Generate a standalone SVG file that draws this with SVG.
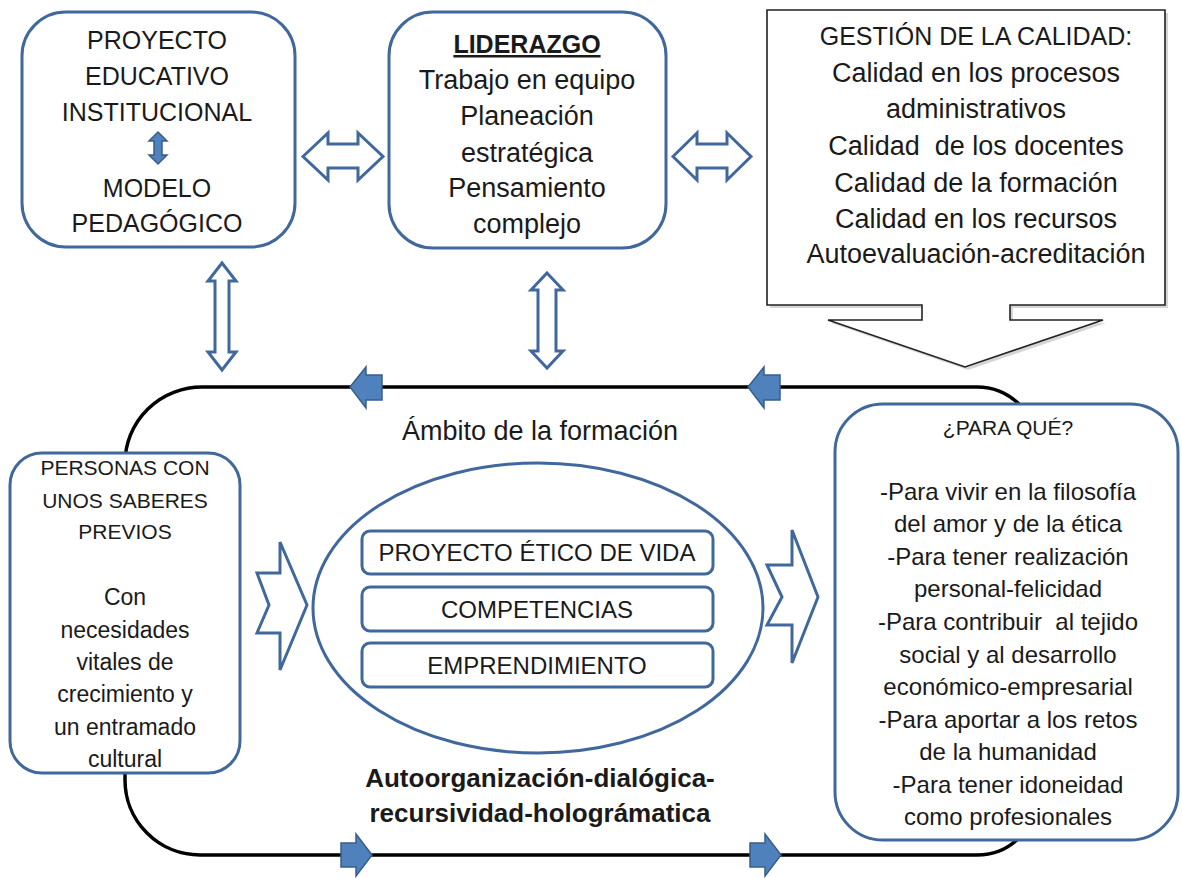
<svg xmlns="http://www.w3.org/2000/svg" width="1182" height="878" viewBox="0 0 1182 878">
<defs>
<style>
.box{fill:#fff;stroke:#41689c;stroke-width:3}
.hollow{fill:#fff;stroke:#41689c;stroke-width:3;stroke-linejoin:miter}
.solid{fill:#4f81bd;stroke:#385d8a;stroke-width:1.5}
.loop{fill:none;stroke:#000;stroke-width:3.5}
.callout{fill:#fff;stroke:#222;stroke-width:1.6}
.shadow{fill:#bbb;opacity:0.6}
text{font-family:"Liberation Sans",Arial,sans-serif;fill:#1a1a1a;text-anchor:middle}
.c25{font-size:25px}
.l27{font-size:27px}
.c21{font-size:21px}
.l23{font-size:23px}
.l24{font-size:24px}
.b{font-weight:bold}
</style>
</defs>
<rect width="1182" height="878" fill="#fff"/>

<g id="connectors">
<path class="loop" d="M203,387 H977 A60,60 0 0 1 1037,447 V795 A60,60 0 0 1 977,855 H200 A75,75 0 0 1 125,780 V463 A77,76 0 0 1 203,387 Z"/>
<path class="hollow" d="M303,156.5 L328,133 V144 H358 V133 L383,156.5 L358,180 V168 H328 V180 Z"/>
<path class="hollow" d="M673,156.5 L697,133 V144 H727 V133 L751,156.5 L727,180 V168 H697 V180 Z"/>
<path class="hollow" d="M222,263 L236,281 H229 V352 H236 L222,370 L208,352 H215 V281 H208 Z"/>
<path class="hollow" d="M547,273 L563,290 H556 V351 H563 L547,368 L531,351 H538 V290 H531 Z"/>
<path class="hollow" d="M257,573 H280 V542 L307,605 L280,670 V633 H257 L269,605 Z"/>
<path class="hollow" d="M767,565 H792 V530 L818,597 L792,663 V625 H767 L782,597 Z"/>
<path class="solid" d="M350,387 L366,367 V375 H382 V400 H366 V408 Z"/>
<path class="solid" d="M748,387 L764,367 V375 H780 V400 H764 V408 Z"/>
<path class="solid" d="M372,855 L356,834 V843 H341 V867 H356 V876 Z"/>
<path class="solid" d="M781,855 L765,834 V843 H750 V867 H765 V876 Z"/>
</g>

<g id="proyecto">
<rect class="box" x="22" y="12" width="273" height="235" rx="44"/>
<text class="c25" x="157" y="49">PROYECTO</text>
<text class="c25" x="157" y="85">EDUCATIVO</text>
<text class="c25" x="157" y="121">INSTITUCIONAL</text>
<path class="solid" d="M158,132 L167,141 H162 V155 H167 L158,164 L149,155 H154 V141 H149 Z"/>
<text class="c25" x="157" y="197">MODELO</text>
<text class="c25" x="157" y="232">PEDAGÓGICO</text>
</g>

<g id="liderazgo">
<rect class="box" x="389" y="12" width="277" height="236" rx="44"/>
<text class="c25 b" x="527" y="53" font-size="24" text-decoration="underline">LIDERAZGO</text>
<text class="l27" x="527" y="89">Trabajo en equipo</text>
<text class="l27" x="527" y="125">Planeación</text>
<text class="l27" x="527" y="162">estratégica</text>
<text class="l27" x="527" y="197">Pensamiento</text>
<text class="l27" x="527" y="233">complejo</text>
</g>

<g id="gestion">
<path class="shadow" d="M770,13 H1168 V308 H1013 V323 H1106 L968,370 L831,323 H925 V308 H770 Z"/>
<path class="callout" d="M767,10 H1165 V305 H1010 V320 H1103 L965,367 L828,320 H922 V305 H767 Z"/>
<text class="c25" x="976" y="45">GESTIÓN DE LA CALIDAD:</text>
<text class="l27" x="976" y="82">Calidad en los procesos</text>
<text class="l27" x="976" y="118">administrativos</text>
<text class="l27" x="976" y="155" xml:space="preserve">Calidad  de los docentes</text>
<text class="l27" x="976" y="192">Calidad de la formación</text>
<text class="l27" x="976" y="228">Calidad en los recursos</text>
<text class="l27" x="976" y="263">Autoevaluación-acreditación</text>
</g>

<g id="ambito">
<text x="540" y="440" font-size="27">Ámbito de la formación</text>
</g>

<g id="personas">
<rect class="box" x="10" y="453" width="230" height="320" rx="32"/>
<text class="c21" x="125" y="475">PERSONAS CON</text>
<text class="c21" x="125" y="508">UNOS SABERES</text>
<text class="c21" x="125" y="539">PREVIOS</text>
<text class="l23" x="125" y="605">Con</text>
<text class="l23" x="125" y="638">necesidades</text>
<text class="l23" x="125" y="670">vitales de</text>
<text class="l23" x="125" y="702">crecimiento y</text>
<text class="l23" x="125" y="735">un entramado</text>
<text class="l23" x="125" y="767">cultural</text>
</g>

<g id="formacion">
<ellipse class="box" cx="538" cy="608" rx="225" ry="145"/>
<rect class="box" x="362" y="531" width="351" height="43" rx="8"/>
<text class="l24" x="537" y="561">PROYECTO ÉTICO DE VIDA</text>
<rect class="box" x="362" y="587" width="351" height="44" rx="8"/>
<text class="l24" x="537" y="618">COMPETENCIAS</text>
<rect class="box" x="362" y="643" width="351" height="44" rx="8"/>
<text class="l24" x="537" y="674">EMPRENDIMIENTO</text>
</g>

<g id="autoorganizacion">
<text class="b" x="540" y="787" font-size="26">Autoorganización-dialógica-</text>
<text class="b" x="540" y="822" font-size="26">recursividad-holográmatica</text>
</g>

<g id="paraque">
<rect class="box" x="835" y="404" width="343" height="436" rx="48"/>
<text class="c21" x="1008" y="435">¿PARA QUÉ?</text>
<text class="l24" x="1008" y="500">-Para vivir en la filosofía</text>
<text class="l24" x="1008" y="532">del amor y de la ética</text>
<text class="l24" x="1008" y="565">-Para tener realización</text>
<text class="l24" x="1008" y="597">personal-felicidad</text>
<text class="l24" x="1008" y="630" xml:space="preserve">-Para contribuir  al tejido</text>
<text class="l24" x="1008" y="663">social y al desarrollo</text>
<text class="l24" x="1008" y="695">económico-empresarial</text>
<text class="l24" x="1008" y="728">-Para aportar a los retos</text>
<text class="l24" x="1008" y="760">de la humanidad</text>
<text class="l24" x="1008" y="793">-Para tener idoneidad</text>
<text class="l24" x="1008" y="825">como profesionales</text>
</g>
</svg>
